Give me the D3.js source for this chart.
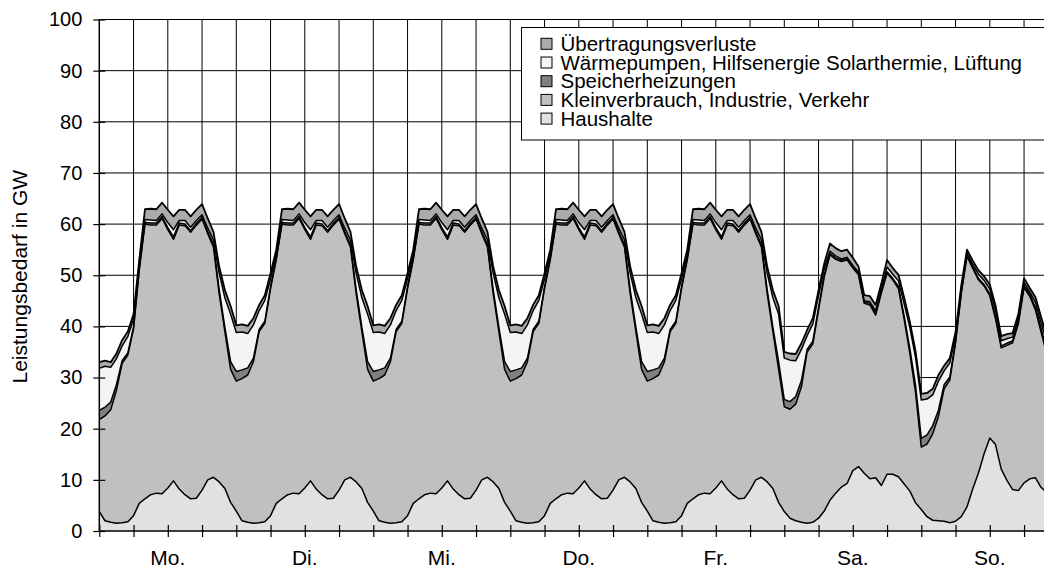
<!DOCTYPE html>
<html><head><meta charset="utf-8">
<script src="https://cdn.jsdelivr.net/npm/d3@7"></script>
<style>
body{margin:0;background:#fff;}
svg{display:block;}
text{font-family:"Liberation Sans",Arial,Helvetica,sans-serif;fill:#000;}
</style>
</head><body>
<svg id="c" width="1044" height="569"></svg>
<script>
// ---- data ----
const days = ["Mo.","Di.","Mi.","Do.","Fr.","Sa.","So."];
const yTicks = [0,10,20,30,40,50,60,70,80,90,100];
const hours = d3.range(168);
const seriesKeys = ["haushalte","kiv","speicher","waerme","uebertragung"];
const seriesNames = ["Haushalte","Kleinverbrauch, Industrie, Verkehr","Speicherheizungen","Wärmepumpen, Hilfsenergie Solarthermie, Lüftung","Übertragungsverluste"];
const seriesColors = ["#e1e1e1","#c0c0c0","#808080","#f4f4f4","#ababab"];

const haushalte = [
 3.8,2.0,1.7,1.5,1.6,1.8,3.0,5.4,6.3,7.1,7.4,7.3,8.4,9.8,8.2,7.1,6.3,6.4,8.0,10.0,10.5,9.6,8.3,5.6,
 3.9,2.0,1.7,1.5,1.6,1.8,3.0,5.4,6.3,7.1,7.4,7.3,8.4,9.8,8.2,7.1,6.3,6.4,8.0,10.0,10.5,9.6,8.3,5.6,
 3.9,2.0,1.7,1.5,1.6,1.8,3.0,5.4,6.3,7.1,7.4,7.3,8.4,9.8,8.2,7.1,6.3,6.4,8.0,10.0,10.5,9.6,8.3,5.6,
 3.9,2.0,1.7,1.5,1.6,1.8,3.0,5.4,6.3,7.1,7.4,7.3,8.4,9.8,8.2,7.1,6.3,6.4,8.0,10.0,10.5,9.6,8.3,5.6,
 3.9,2.0,1.7,1.5,1.6,1.8,3.0,5.4,6.3,7.1,7.4,7.3,8.4,9.8,8.2,7.1,6.3,6.4,8.0,10.0,10.5,9.6,8.3,5.6,
 3.8,2.5,2.0,1.7,1.5,1.7,2.5,3.9,6.0,7.4,8.6,9.3,11.8,12.6,11.3,10.2,10.4,8.9,11.1,11.1,10.6,9.2,7.8,5.5,
 4.2,2.8,2.1,2.0,1.9,1.6,1.9,2.8,4.7,8.2,11.3,15.1,18.2,16.9,12.1,9.9,8.1,7.9,9.4,10.2,10.4,8.5,7.5,6.0
];
const kiv = [
 18.0,20.5,22.0,26.0,31.2,32.6,36.5,45.6,53.7,52.7,52.4,53.8,50.5,47.2,51.6,52.6,52.1,53.4,53.0,48.1,45.0,36.8,30.7,26.0,
 25.4,27.8,28.8,31.6,37.4,38.8,44.4,47.6,53.7,52.7,52.4,53.8,50.5,47.2,51.6,52.6,52.1,53.4,53.0,48.1,45.0,36.8,30.7,26.0,
 25.4,27.8,28.8,31.6,37.4,38.8,44.4,47.6,53.7,52.7,52.4,53.8,50.5,47.2,51.6,52.6,52.1,53.4,53.0,48.1,45.0,36.8,30.7,26.0,
 25.4,27.8,28.8,31.6,37.4,38.8,44.4,47.6,53.7,52.7,52.4,53.8,50.5,47.2,51.6,52.6,52.1,53.4,53.0,48.1,45.0,36.8,30.7,26.0,
 25.4,27.8,28.8,31.6,37.4,38.8,44.4,47.6,53.7,52.7,52.4,53.8,50.5,47.2,51.6,52.6,52.1,53.4,53.0,48.1,45.0,36.8,30.7,26.0,
 20.5,21.3,22.8,26.5,33.5,34.9,40.7,45.8,48.0,45.7,44.1,43.7,39.6,37.5,33.2,34.0,31.8,37.6,39.3,38.0,36.8,32.2,26.9,21.5,
 12.2,14.2,16.9,20.4,25.9,27.9,34.9,43.6,49.0,43.2,37.8,32.8,27.8,24.6,23.7,26.4,28.7,32.6,38.2,35.7,32.8,30.3,27.0,25.0
];
const speicher = [
 1.8,1.7,1.5,1.1,0.5,0.4,0.4,0.4,0.3,0.4,0.4,0.4,0.4,0.5,0.4,0.3,0.3,0.4,0.3,0.4,0.5,0.8,0.8,1.5,
 1.9,1.7,1.4,0.7,0.4,0.4,0.4,0.3,0.3,0.4,0.4,0.4,0.4,0.5,0.4,0.3,0.3,0.4,0.3,0.4,0.5,0.8,0.8,1.5,
 1.9,1.7,1.4,0.7,0.4,0.4,0.4,0.3,0.3,0.4,0.4,0.4,0.4,0.5,0.4,0.3,0.3,0.4,0.3,0.4,0.5,0.8,0.8,1.5,
 1.9,1.7,1.4,0.7,0.4,0.4,0.4,0.3,0.3,0.4,0.4,0.4,0.4,0.5,0.4,0.3,0.3,0.4,0.3,0.4,0.5,0.8,0.8,1.5,
 1.9,1.7,1.4,0.7,0.4,0.4,0.4,0.3,0.3,0.4,0.4,0.4,0.4,0.5,0.4,0.3,0.3,0.4,0.3,0.4,0.5,0.8,0.8,1.5,
 1.4,1.5,1.5,1.2,0.5,0.5,0.5,0.4,0.3,0.3,0.3,0.3,0.3,0.3,0.3,0.3,0.3,0.3,0.3,0.3,0.4,0.6,0.9,1.4,
 1.7,1.8,1.6,1.2,0.8,0.6,0.4,0.3,0.3,0.3,0.3,0.3,0.3,0.4,0.4,0.4,0.4,0.4,0.4,0.4,0.5,0.7,0.9,1.4
];
const waerme = [
 8.2,8.0,6.8,5.1,2.9,3.2,1.5,0.6,0.6,0.6,0.5,0.5,1.0,1.4,0.5,0.7,0.7,0.5,0.5,0.7,0.9,3.2,5.8,9.3,
 7.6,7.4,6.7,6.5,3.7,4.1,1.5,0.7,0.6,0.6,0.5,0.5,1.0,1.4,0.5,0.7,0.7,0.5,0.5,0.7,0.9,3.2,5.8,9.3,
 7.6,7.4,6.7,6.5,3.7,4.1,1.5,0.7,0.6,0.6,0.5,0.5,1.0,1.4,0.5,0.7,0.7,0.5,0.5,0.7,0.9,3.2,5.8,9.3,
 7.6,7.4,6.7,6.5,3.7,4.1,1.5,0.7,0.6,0.6,0.5,0.5,1.0,1.4,0.5,0.7,0.7,0.5,0.5,0.7,0.9,3.2,5.8,9.3,
 7.6,7.4,6.7,6.5,3.7,4.1,1.5,0.7,0.6,0.6,0.5,0.5,1.0,1.4,0.5,0.7,0.7,0.5,0.5,0.7,0.9,3.2,5.8,9.3,
 8.1,8.1,7.0,6.1,2.7,3.4,2.3,1.2,0.4,0.4,0.2,0.2,0.2,0.2,0.2,0.3,0.5,0.5,0.9,0.8,1.1,2.4,4.1,5.5,
 7.5,7.0,6.0,5.7,2.7,2.8,0.9,0.5,0.3,0.5,0.8,0.8,1.0,1.2,1.0,0.9,0.7,0.7,0.6,0.4,1.0,1.1,1.4,2.2
];
const uebertragung = [
 1.2,1.1,1.0,1.0,1.1,1.0,1.0,1.0,2.0,2.2,2.2,2.2,2.5,2.6,2.1,2.1,2.1,2.1,2.1,1.9,1.6,1.3,1.5,1.6,
 1.4,1.5,1.5,1.3,1.1,1.0,1.1,1.0,2.0,2.2,2.2,2.2,2.5,2.6,2.1,2.1,2.1,2.1,2.1,1.9,1.6,1.3,1.5,1.6,
 1.4,1.5,1.5,1.3,1.1,1.0,1.1,1.0,2.0,2.2,2.2,2.2,2.5,2.6,2.1,2.1,2.1,2.1,2.1,1.9,1.6,1.3,1.5,1.6,
 1.4,1.5,1.5,1.3,1.1,1.0,1.1,1.0,2.0,2.2,2.2,2.2,2.5,2.6,2.1,2.1,2.1,2.1,2.1,1.9,1.6,1.3,1.5,1.6,
 1.4,1.5,1.5,1.3,1.1,1.0,1.1,1.0,2.0,2.2,2.2,2.2,2.5,2.6,2.1,2.1,2.1,2.1,2.1,1.9,1.6,1.3,1.5,1.6,
 1.2,1.3,1.3,1.2,1.1,1.1,1.1,1.0,1.5,1.5,1.5,1.5,1.5,1.1,1.1,1.1,1.2,1.1,1.4,1.2,1.2,1.2,1.2,1.2,
 1.2,1.2,1.2,1.2,1.0,0.9,0.8,0.8,0.7,0.7,0.8,0.8,0.9,1.0,0.9,0.9,0.8,0.8,0.8,0.8,1.0,1.2,1.2,1.4
];

// ---- build ----
const seriesData = {haushalte, kiv, speicher, waerme, uebertragung};
const rows = hours.map(h => {
  const r = {hour: h};
  seriesKeys.forEach(k => r[k] = seriesData[k][h]);
  return r;
});
const stacked = d3.stack().keys(seriesKeys)(rows);

const svg = d3.select("#c");
const x = d3.scaleLinear().domain([0,168]).range([99.3,1058.3]);
const y = d3.scaleLinear().domain([0,100]).range([531,19.5]);
const gridHours = d3.range(6,168,6);

// gridlines
svg.append("g").selectAll("line").data(yTicks.filter(v=>v>0)).join("line")
  .attr("x1",x(0)).attr("x2",x(168)).attr("y1",d=>y(d)).attr("y2",d=>y(d))
  .attr("stroke","#000").attr("stroke-width",1);
svg.append("g").selectAll("line").data(gridHours).join("line")
  .attr("x1",d=>x(d)).attr("x2",d=>x(d)).attr("y1",y(0)).attr("y2",y(100))
  .attr("stroke","#000").attr("stroke-width",1);

// areas
const area = d3.area().x(d=>x(d.data.hour)).y0(d=>y(d[0])).y1(d=>y(d[1]));
svg.append("g").selectAll("path").data(stacked).join("path")
  .attr("d",area).attr("fill",(d,i)=>seriesColors[i]);
const line = d3.line().x(d=>x(d.data.hour)).y(d=>y(d[1]));
svg.append("g").selectAll("path").data(stacked).join("path")
  .attr("d",line).attr("fill","none").attr("stroke","#000")
  .attr("stroke-width",(d,i)=> i===4 ? 1.8 : 1.5).attr("stroke-linejoin","round");

// axes
const xAxis = svg.append("g").attr("transform",`translate(0,${y(0)})`)
  .call(d3.axisBottom(x).tickValues(d3.range(0,169,6)).tickSize(6).tickFormat(""));
xAxis.selectAll(".tick line").attr("y1",-6).attr("y2",6).attr("stroke","#000").attr("stroke-width",1.2);
xAxis.select(".domain").attr("stroke","#000").attr("stroke-width",1.5).attr("d",`M${x(0)},0H${x(168)}`);

const yAxis = svg.append("g").attr("transform",`translate(${x(0)},0)`)
  .call(d3.axisLeft(y).tickValues(yTicks).tickSize(6).tickPadding(11));
yAxis.selectAll(".tick line").attr("x1",-6).attr("x2",6).attr("stroke","#000").attr("stroke-width",1.2);
yAxis.select(".domain").attr("stroke","#000").attr("stroke-width",1.5).attr("d",`M0,${y(0)}V${y(100)}`);
yAxis.selectAll(".tick text").attr("font-size","20px").attr("font-family","'Liberation Sans',Arial,sans-serif").attr("fill","#000");

// day labels
svg.append("g").selectAll("text").data(days).join("text")
  .attr("x",(d,i)=>x(i*24+12)).attr("y",565).attr("text-anchor","middle")
  .attr("font-size","21px").text(d=>d);

// y-axis title
svg.append("text").attr("transform","translate(27,276.7) rotate(-90)")
  .attr("text-anchor","middle").attr("font-size","21px").text("Leistungsbedarf in GW");

// legend
const lg = svg.append("g");
lg.append("rect").attr("x",521.5).attr("y",27.5).attr("width",530).attr("height",112.5)
  .attr("fill","#fff").attr("stroke","#000").attr("stroke-width",1);
const legendOrder = [4,3,2,1,0];
const li = lg.selectAll("g.it").data(legendOrder).join("g").attr("class","it")
  .attr("transform",(d,i)=>`translate(0,${43.8+i*18.7})`);
li.append("rect").attr("x",541).attr("y",-5.5).attr("width",11).attr("height",11)
  .attr("fill",d=>seriesColors[d]).attr("stroke","#000").attr("stroke-width",1);
li.append("text").attr("x",560.5).attr("y",7).attr("font-size","20.5px").text(d=>seriesNames[d]);
</script>
</body></html>
